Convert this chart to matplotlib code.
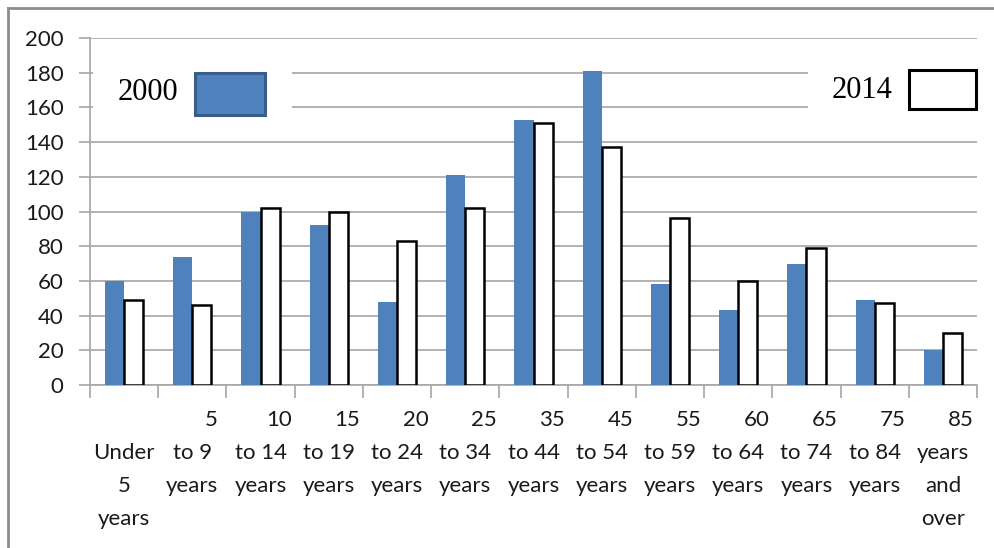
import matplotlib
matplotlib.use('Agg')
import matplotlib.pyplot as plt
from matplotlib.patches import Rectangle
from matplotlib.lines import Line2D
import numpy as np

# 年龄组与两年的人数
age_labels = ["Under\n5\nyears", "5\nto 9\nyears", "10\nto 14\nyears", "15\nto 19\nyears",
              "20\nto 24\nyears", "25\nto 34\nyears", "35\nto 44\nyears", "45\nto 54\nyears",
              "55\nto 59\nyears", "60\nto 64\nyears", "65\nto 74\nyears", "75\nto 84\nyears",
              "85\nyears\nand\nover"]
vals_2000 = [60, 74, 100, 92, 48, 121, 153, 181, 58, 43, 70, 49, 20]
vals_2014 = [49, 46, 102, 100, 83, 102, 151, 137, 96, 60, 79, 47, 30]
y_ticks = list(range(0, 201, 20))

plt.rcParams['font.family'] = ['Lato', 'DejaVu Sans']
W, H = 994, 548
fig = plt.figure(figsize=(W / 100, H / 100), dpi=100)
L, R, T, B = 90, 977, 38, 385
ax = fig.add_axes([L / W, 1 - B / H, (R - L) / W, (B - T) / H])

grid_c = '#a6a6a6'
x = np.arange(len(age_labels))
w = 0.28
ax.bar(x - w, vals_2000, width=w, align='edge', color='#4f81bd', zorder=3)
ax.bar(x, vals_2014, width=w, align='edge', color='white', edgecolor='black',
       linewidth=1.8, zorder=3)

ax.set_xlim(-0.5, len(age_labels) - 0.5)
ax.set_ylim(0, 200)
ax.set_yticks(y_ticks)
ax.yaxis.grid(True, color=grid_c, linewidth=1.2, zorder=0)
ax.tick_params(axis='y', length=8, width=1.2, color=grid_c, pad=11,
               labelsize=16, labelcolor='#1a1a1a')
ax.set_xticks(np.arange(-0.5, len(age_labels), 1.0))
ax.set_xticklabels([])
ax.tick_params(axis='x', length=9, width=1.2, color=grid_c)
for s in ['top', 'right']:
    ax.spines[s].set_visible(False)
for s in ['left', 'bottom']:
    ax.spines[s].set_color(grid_c)
    ax.spines[s].set_linewidth(1.2)

# 分类标签：数字行稍向右，其余行居中
trans = ax.get_xaxis_transform()
def ay(py):
    return (B - py) / (B - T)
line_y = [420, 453, 486, 519]
for i, lab in enumerate(age_labels):
    lines = lab.split('\n')
    if lines[0].isdigit():
        ax.text(i + 0.27, ay(line_y[0]), lines[0], transform=trans, ha='center',
                va='center', fontsize=16, color='#1a1a1a', clip_on=False)
        rest = lines[1:]
    else:
        rest = lines
    for j, t in enumerate(rest):
        ax.text(i, ay(line_y[j + 1]), t, transform=trans, ha='center', va='center',
                fontsize=16, color='#1a1a1a', clip_on=False)

# 图例
def axc(px, py):
    return ((px - L) / (R - L), (B - py) / (B - T))

def box(x0, y0, x1, y1, **kw):
    ax0, ay1 = axc(x0, y1)
    ax1, ay0 = axc(x1, y0)
    ax.add_patch(Rectangle((ax0, ay1), ax1 - ax0, ay0 - ay1, transform=ax.transAxes,
                           clip_on=False, **kw))

box(93, 50, 292, 128, facecolor='white', edgecolor='none', zorder=4)
box(808, 50, 977, 128, facecolor='white', edgecolor='none', zorder=4)
box(195, 73, 265, 115, facecolor='#4f81bd', edgecolor='#385d8a', linewidth=2.2, zorder=5)
box(909, 70, 976, 109, facecolor='white', edgecolor='black', linewidth=2.2, zorder=5)
ax.text(*axc(148, 93), '2000', transform=ax.transAxes, ha='center', va='center',
        fontsize=22, family='Liberation Serif', zorder=6)
ax.text(*axc(862, 90), '2014', transform=ax.transAxes, ha='center', va='center',
        fontsize=22, family='Liberation Serif', zorder=6)

# 外框
fig.add_artist(Line2D([8 / W, 1], [1 - 8 / H, 1 - 8 / H], color='#8c8c8c', linewidth=2))
fig.add_artist(Line2D([8 / W, 8 / W], [0, 1 - 8 / H], color='#8c8c8c', linewidth=2))

fig.savefig('out.png', dpi=100)
